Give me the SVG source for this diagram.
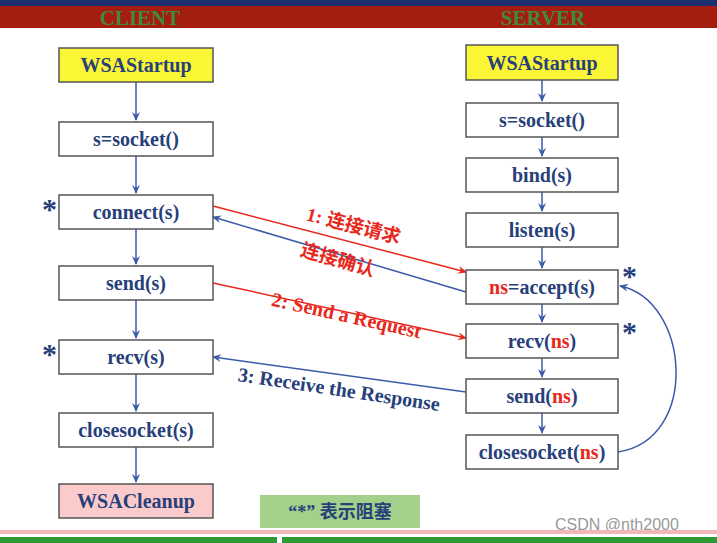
<svg xmlns="http://www.w3.org/2000/svg" width="717" height="543" viewBox="0 0 717 543">
<defs>
<style>
.b{fill:#fff;stroke:#555;stroke-width:1.5}
.t{font-family:'Liberation Serif',serif;font-weight:bold;font-size:20px;fill:#27407a;text-anchor:middle}
.cn{font-family:'Liberation Serif','Noto Sans CJK SC',serif;font-weight:bold;font-size:19px;text-anchor:middle}
.red{fill:#e8281c}
.v{stroke:#3b5aa8;stroke-width:1.5;fill:none}
.star{font-family:'Liberation Serif',serif;font-weight:bold;font-size:30px;fill:#27407a}
.h{font-family:'Liberation Serif',serif;font-weight:bold;font-size:21px;fill:#3e8a3e;text-anchor:middle}
</style>
<marker id="ab" markerWidth="10" markerHeight="10" refX="8" refY="4" orient="auto" markerUnits="userSpaceOnUse"><path d="M0,0 L9,4 L0,8 L3,4z" fill="#3b5aa8"/></marker>
<marker id="ar" markerWidth="10" markerHeight="10" refX="8" refY="4" orient="auto" markerUnits="userSpaceOnUse"><path d="M0,0 L9,4 L0,8 L3,4z" fill="#e8281c"/></marker>
</defs>
<rect width="717" height="543" fill="#fff"/>
<rect width="717" height="7" fill="#1c2f6e"/>
<rect y="6" width="717" height="22" fill="#a51d10"/>
<text class="h" x="140" y="25">CLIENT</text>
<text class="h" x="543" y="25">SERVER</text>
<g id="connectors">
<line class="v" x1="136" y1="82" x2="136" y2="120" marker-end="url(#ab)"/>
<line class="v" x1="136" y1="156" x2="136" y2="193" marker-end="url(#ab)"/>
<line class="v" x1="136" y1="229" x2="136" y2="264" marker-end="url(#ab)"/>
<line class="v" x1="136" y1="300" x2="136" y2="338" marker-end="url(#ab)"/>
<line class="v" x1="136" y1="374" x2="136" y2="411" marker-end="url(#ab)"/>
<line class="v" x1="136" y1="447" x2="136" y2="482" marker-end="url(#ab)"/>
<line class="v" x1="542" y1="80" x2="542" y2="101" marker-end="url(#ab)"/>
<line class="v" x1="542" y1="137" x2="542" y2="156" marker-end="url(#ab)"/>
<line class="v" x1="542" y1="192" x2="542" y2="211" marker-end="url(#ab)"/>
<line class="v" x1="542" y1="247" x2="542" y2="268" marker-end="url(#ab)"/>
<line class="v" x1="542" y1="304" x2="542" y2="322" marker-end="url(#ab)"/>
<line class="v" x1="542" y1="358" x2="542" y2="377" marker-end="url(#ab)"/>
<line class="v" x1="542" y1="413" x2="542" y2="433" marker-end="url(#ab)"/>
<line x1="213" y1="206" x2="466" y2="272" stroke="#e8281c" stroke-width="1.5" marker-end="url(#ar)"/>
<line x1="466" y1="292" x2="213" y2="217" class="v" marker-end="url(#ab)"/>
<line x1="213" y1="283" x2="466" y2="338" stroke="#e8281c" stroke-width="1.5" marker-end="url(#ar)"/>
<line x1="466" y1="392" x2="213" y2="357" class="v" marker-end="url(#ab)"/>
<path class="v" d="M618,452 C700,440 690,300 620,286" marker-end="url(#ab)"/>
<text transform="translate(352,232) rotate(14.5)" class="cn" style="fill:#e8281c">1:  连接请求</text>
<text transform="translate(336,266) rotate(16)" class="cn" style="fill:#e8281c">连接确认</text>
<text transform="translate(345,322) rotate(12.5)" class="t" style="fill:#e8281c">2: Send a Request</text>
<text transform="translate(338,396) rotate(8.5)" class="t">3: Receive the Response</text>
</g>
<g id="c1"><rect class="b" x="59" y="48" width="154" height="34" style="fill:#fbf635"/><text class="t" x="136" y="72">WSAStartup</text></g>
<g id="c2"><rect class="b" x="59" y="122" width="154" height="34"/><text class="t" x="136" y="146">s=socket()</text></g>
<g id="c3"><rect class="b" x="59" y="195" width="154" height="34"/><text class="t" x="136" y="219">connect(s)</text></g>
<g id="c4"><rect class="b" x="59" y="266" width="154" height="34"/><text class="t" x="136" y="290">send(s)</text></g>
<g id="c5"><rect class="b" x="59" y="340" width="154" height="34"/><text class="t" x="136" y="364">recv(s)</text></g>
<g id="c6"><rect class="b" x="59" y="413" width="154" height="34"/><text class="t" x="136" y="437">closesocket(s)</text></g>
<g id="c7"><rect class="b" x="59" y="484" width="154" height="34" style="fill:#fbcaca"/><text class="t" x="136" y="508">WSACleanup</text></g>
<g id="s1"><rect class="b" x="466" y="45" width="152" height="35" style="fill:#fbf635"/><text class="t" x="542" y="70">WSAStartup</text></g>
<g id="s2"><rect class="b" x="466" y="103" width="152" height="34"/><text class="t" x="542" y="127">s=socket()</text></g>
<g id="s3"><rect class="b" x="466" y="158" width="152" height="34"/><text class="t" x="542" y="182">bind(s)</text></g>
<g id="s4"><rect class="b" x="466" y="213" width="152" height="34"/><text class="t" x="542" y="237">listen(s)</text></g>
<g id="s5"><rect class="b" x="466" y="270" width="152" height="34"/><text class="t" x="542" y="294"><tspan class="red">ns</tspan>=accept(s)</text></g>
<g id="s6"><rect class="b" x="466" y="324" width="152" height="34"/><text class="t" x="542" y="348">recv(<tspan class="red">ns</tspan>)</text></g>
<g id="s7"><rect class="b" x="466" y="379" width="152" height="34"/><text class="t" x="542" y="403">send(<tspan class="red">ns</tspan>)</text></g>
<g id="s8"><rect class="b" x="466" y="435" width="152" height="34"/><text class="t" x="542" y="459">closesocket(<tspan class="red">ns</tspan>)</text></g>
<text class="star" x="42" y="219">*</text>
<text class="star" x="42" y="364">*</text>
<text class="star" x="622" y="286">*</text>
<text class="star" x="622" y="342">*</text>
<g id="legend"><rect x="260" y="495" width="160" height="33" fill="#a3d08a"/><text class="cn" x="340" y="518" style="fill:#27407a;font-size:18px">“*”  表示阻塞</text></g>
<text x="555" y="530" font-family="'Liberation Sans',sans-serif" font-size="16" fill="#999">CSDN @nth2000</text>
<rect y="530" width="717" height="4" fill="#f2b8b8"/>
<rect y="537" width="277" height="6" fill="#2d9a35"/>
<rect x="282" y="537" width="435" height="6" fill="#2d9a35"/>
</svg>
